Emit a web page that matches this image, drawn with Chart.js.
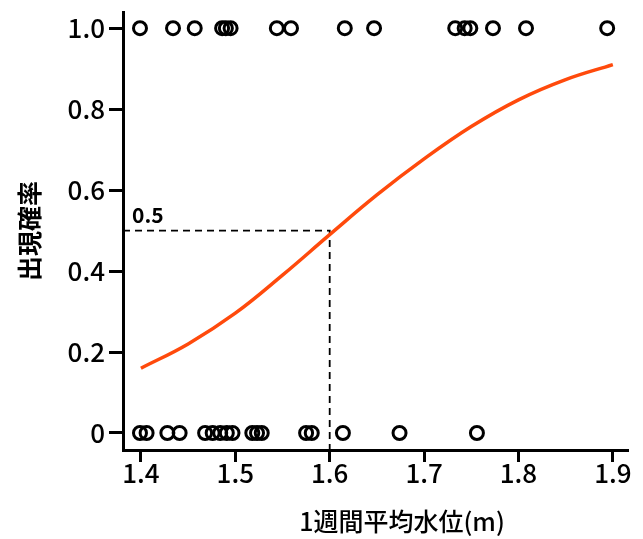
<!DOCTYPE html>
<html>
<head>
<meta charset="utf-8">
<script src="https://cdn.jsdelivr.net/npm/chart.js@4"></script>
<style>
  html, body { margin: 0; padding: 0; background: #fff; }
  #wrap { width: 643px; height: 539px; }
</style>
</head>
<body>
<div id="wrap"><canvas id="myChart"></canvas></div>
<script>
// observed water levels (m) where the species was present (y=1) / absent (y=0)
const presentX = [1.399, 1.434, 1.457, 1.486, 1.490, 1.495, 1.544, 1.559, 1.616, 1.647,
  1.733, 1.743, 1.749, 1.773, 1.808, 1.894];
const absentX = [1.399, 1.406, 1.428, 1.441, 1.468, 1.476, 1.484, 1.491, 1.497, 1.518,
  1.523, 1.528, 1.575, 1.581, 1.614, 1.674, 1.756];

// fitted probability curve
const curveX = [1.40, 1.45, 1.50, 1.55, 1.60, 1.65, 1.70, 1.75, 1.80, 1.85, 1.90];
const curveY = [0.16, 0.22, 0.296, 0.39, 0.49, 0.588, 0.677, 0.757, 0.823, 0.873, 0.91];

// threshold guide
const cutX = 1.6;
const cutY = 0.5;

const xTicks = [1.4, 1.5, 1.6, 1.7, 1.8, 1.9];
const yTicks = [0, 0.2, 0.4, 0.6, 0.8, 1.0];
const xMin = 1.381, xMax = 1.915;
const yMin = -0.042, yMax = 1.04;

const xTitle = "1週間平均水位(m)";
const yTitle = "出現確率";

const FONT = "'Noto Sans CJK JP', 'Noto Sans', sans-serif";

const data = {
  datasets: [
    {
      type: "line",
      data: curveX.map((x, i) => ({ x: x, y: curveY[i] })),
      borderColor: "#ff4a0c",
      borderWidth: 3.5,
      pointRadius: 0,
      tension: 0.4,
      order: 1,
    },
    {
      type: "line",
      data: [
        { x: xMin, y: cutY },
        { x: cutX, y: cutY },
        { x: cutX, y: yMin },
      ],
      borderColor: "#000",
      borderWidth: 1.8,
      borderDash: [7, 5],
      pointRadius: 0,
      tension: 0,
      order: 2,
    },
    {
      data: presentX.map((x) => ({ x: x, y: 1 })),
      pointRadius: 6.5,
      pointBorderWidth: 3,
      borderColor: "#000",
      backgroundColor: "rgba(0,0,0,0)",
      showLine: false,
      clip: false,
      order: 0,
    },
    {
      data: absentX.map((x) => ({ x: x, y: 0 })),
      pointRadius: 6.5,
      pointBorderWidth: 3,
      borderColor: "#000",
      backgroundColor: "rgba(0,0,0,0)",
      showLine: false,
      clip: false,
      order: 0,
    },
  ],
};

// "0.5" label next to the dashed guide, and the x axis title (sits right of centre)
const extraText = {
  id: "extraText",
  afterDraw(chart) {
    const ctx = chart.ctx;
    const area = chart.chartArea;
    const y = chart.scales.y.getPixelForValue(cutY);
    ctx.save();
    ctx.fillStyle = "#000";
    ctx.font = "bold 21px " + FONT;
    ctx.textAlign = "left";
    ctx.textBaseline = "alphabetic";
    ctx.fillText("0.5", area.left + 9, y - 8);

    ctx.font = "500 25px " + FONT;
    ctx.textAlign = "center";
    ctx.textBaseline = "middle";
    ctx.fillText(xTitle, area.left + 279, chart.height - 18);
    ctx.restore();
  },
};

const config = {
  type: "scatter",
  data: data,
  options: {
    responsive: true,
    maintainAspectRatio: false,
    animation: false,
    layout: { padding: { left: 0, right: 16, top: 12, bottom: 0 } },
    plugins: {
      legend: { display: false },
      tooltip: { enabled: false },
    },
    scales: {
      x: {
        type: "linear",
        min: xMin,
        max: xMax,
        afterBuildTicks: (s) => { s.ticks = xTicks.map((v) => ({ value: v })); },
        afterFit: (s) => { s.height = 89; },
        border: { color: "#000", width: 3 },
        grid: { drawOnChartArea: false, drawTicks: true, tickLength: 12, color: "#000", lineWidth: 3 },
        ticks: {
          color: "#000",
          padding: -4,
          font: { family: FONT, size: 26, weight: 500 },
          callback: (v) => v.toFixed(1),
        },
      },
      y: {
        type: "linear",
        min: yMin,
        max: yMax,
        afterBuildTicks: (s) => { s.ticks = yTicks.map((v) => ({ value: v })); },
        afterFit: (s) => {
          s.width = 123;
          s.paddingTop = 0;
          s.paddingBottom = 0;
        },
        border: { color: "#000", width: 3 },
        grid: { drawOnChartArea: false, drawTicks: true, tickLength: 14, color: "#000", lineWidth: 3 },
        ticks: {
          color: "#000",
          padding: 4,
          font: { family: FONT, size: 26, weight: 500 },
          callback: (v) => (v === 0 ? "0" : v.toFixed(1)),
        },
        title: {
          display: true,
          text: yTitle,
          color: "#000",
          font: { family: FONT, size: 25, weight: "bold" },
          padding: { top: 14, bottom: 0 },
        },
      },
    },
  },
  plugins: [extraText],
};

const myChart = new Chart(document.getElementById("myChart"), config);
</script>
</body>
</html>
